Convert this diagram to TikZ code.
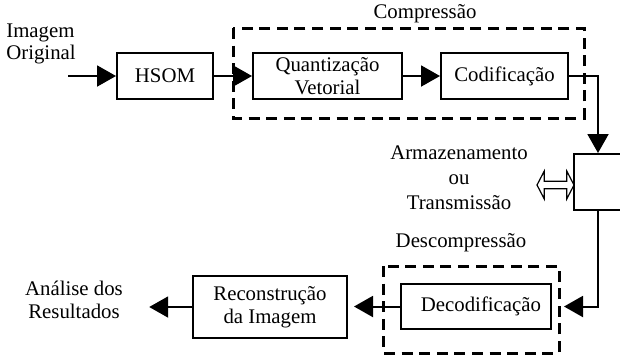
\documentclass[tikz,border=0pt]{standalone}
\usepackage{fontspec}
\setmainfont{Liberation Serif}
\usetikzlibrary{arrows.meta,shapes.arrows}

\begin{document}
\begin{tikzpicture}[x=0.5pt,y=-0.5pt,
    font=\fontsize{10.4}{11.3}\selectfont,
    bloco/.style={draw,line width=1pt,align=center,inner sep=0pt},
    grupo/.style={line width=1.5pt,dash pattern=on 5.5pt off 3.3pt},
    seta/.style={line width=1pt,-{Triangle[length=9.5pt,width=10.5pt]}}]
    \useasboundingbox (0,0) rectangle (620,361);

    \node (orig) [align=left,inner sep=0pt] at (41,44) {Imagem\\Original};
    \coordinate (in) at (68,76);
    \node (hsom) [bloco,minimum width=48pt,minimum height=23pt] at (165,76) {HSOM};
    \node (vq)   [bloco,minimum width=74.5pt,minimum height=23pt] at (327.5,76) {Quantização\\Vetorial};
    \node (cod)  [bloco,minimum width=63.5pt,minimum height=23pt] at (504.5,76) {Codificação};
    \draw[grupo] (233,28) rectangle (584,118);
    \node (comp) at (425,14) {Compressão};

    \node (arm) [bloco,minimum width=24pt,minimum height=28pt] at (598,182) {};
    \node (io) [draw,double arrow,line width=0.6pt,inner sep=1.6pt,minimum height=18.5pt,
        double arrow head extend=5pt,double arrow tip angle=125] at (555.5,185) {};
    \node (armtxt) [align=center,inner sep=0pt] at (459,178) {Armazenamento\\[1.3pt]ou\\[1.3pt]Transmissão};

    \node (desc) at (461,243) {Descompressão};
    \draw[grupo] (383,266) rectangle (559,353);
    \node (dec) [bloco,minimum width=75pt,minimum height=22.5pt] at (476,306.5) {\hspace{5pt}Decodificação};
    \node (rec) [bloco,minimum width=77pt,minimum height=31pt] at (270,307) {Reconstrução\\da Imagem};
    \node (res) [align=center,inner sep=0pt] at (74,300) {Análise dos\\Resultados};

    \draw[seta] (in) -- (hsom);
    \draw[seta] (hsom) -- (vq);
    \draw[seta] (vq) -- (cod);
    \draw[seta] (cod.east) -| (arm.north);
    \draw[seta,shorten >=6pt] (arm.south) |- (dec.east);
    \draw[seta,shorten >=3pt] (dec.west) -- (dec.west -| rec.east);
    \draw[seta,shorten >=13pt] (rec.west) -- (rec.west -| res.east);
\end{tikzpicture}
\end{document}
